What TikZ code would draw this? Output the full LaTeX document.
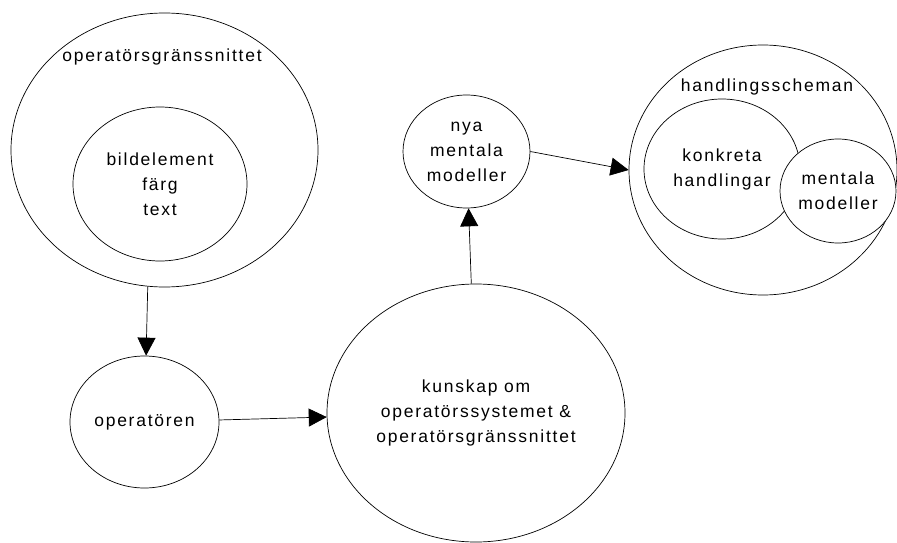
\documentclass[tikz,border=0pt]{standalone}
\usepackage{fontspec}
\setmainfont{Liberation Sans}[LetterSpace=10]
\usetikzlibrary{arrows.meta,positioning,shapes.geometric}

\begin{document}
\begin{tikzpicture}[
    x=1pt, y=-1pt,
    blob/.style={
        ellipse,
        draw,
        line width=0.7pt,
        align=center,
        inner sep=0pt,
        font=\fontsize{17.5}{25}\selectfont
    },
    tag/.style={
        anchor=base,
        inner sep=0pt,
        font=\fontsize{17.5}{25}\selectfont
    },
    arrow/.style={
        ->,
        >={Triangle[length=18pt,width=18pt]},
        line width=0.7pt
    }
]
\useasboundingbox (0,0) rectangle (897,543);

% Left column
\node[blob, minimum width=307pt, minimum height=274pt] (gui) at (164.5,150) {};
\node[tag] (guilabel) at (162,62) {operatörsgränssnittet};
\node[blob, minimum width=174pt, minimum height=154pt] (parts) at (160,184) {bildelement\\färg\\text};
\node[blob, minimum width=149pt, minimum height=132pt] (operator) at (144.5,422) {operatören};

% Middle column
\node[blob, minimum width=298pt, minimum height=258pt] (knowledge) at (476,413) {kunskap om\\operatörssystemet \&\\operatörsgränssnittet};
\node[blob, minimum width=127pt, minimum height=113pt] (newmodels) at (466.5,151.5) {nya\\mentala\\modeller};

% Right group
\node[blob, minimum width=268pt, minimum height=250pt] (schemes) at (763,170) {};
\node[tag] (schemeslabel) at (767,92) {handlingsscheman};
\node[blob, minimum width=156pt, minimum height=140pt] (actions) at (722,169) {konkreta\\handlingar};
\node[blob, fill=white, minimum width=116pt, minimum height=104pt] (models) at (838,191) {mentala\\modeller};

% Arrows
\draw[arrow] (gui.263) -- (operator);
\draw[arrow] (operator) -- (knowledge);
\draw[arrow] (knowledge) -- (newmodels);
\draw[arrow] (newmodels.east) -- (schemes.west);
\end{tikzpicture}
\end{document}
